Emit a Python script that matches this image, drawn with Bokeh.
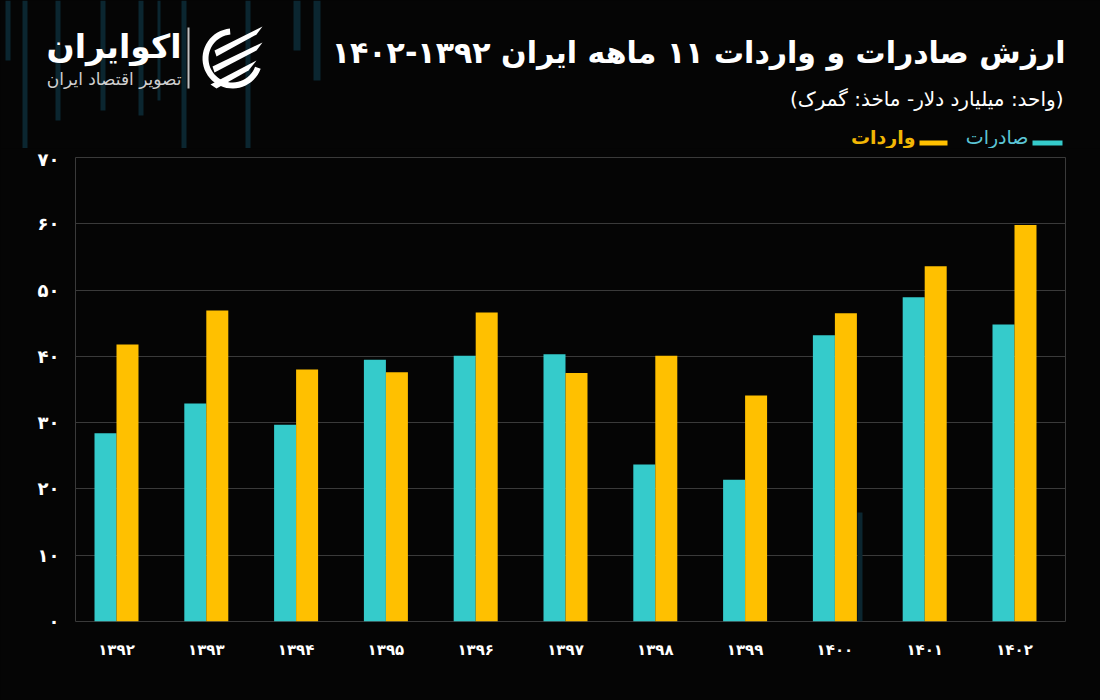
import numpy as np
from bokeh.plotting import figure
from bokeh.layouts import column
from bokeh.models import ColumnDataSource, Range1d, FixedTicker, BoxAnnotation
from bokeh.core.properties import value
from bokeh.embed import file_html
from bokeh.resources import INLINE

# ---------------- data ----------------
years = ["۱۳۹۲", "۱۳۹۳", "۱۳۹۴", "۱۳۹۵", "۱۳۹۶", "۱۳۹۷",
         "۱۳۹۸", "۱۳۹۹", "۱۴۰۰", "۱۴۰۱", "۱۴۰۲"]
exports = [28.4, 32.9, 29.7, 39.5, 40.1, 40.3, 23.7, 21.4, 43.2, 48.9, 44.8]
imports = [41.8, 46.9, 38.0, 37.6, 46.6, 37.5, 40.1, 34.1, 46.5, 53.6, 59.8]
y_ticks = [0, 10, 20, 30, 40, 50, 60, 70]
y_tick_labels = ["۰", "۱۰", "۲۰", "۳۰", "۴۰", "۵۰", "۶۰", "۷۰"]

title_text = "ارزش صادرات و واردات ۱۱ ماهه ایران ۱۳۹۲-۱۴۰۲"
subtitle_text = "(واحد: میلیارد دلار- ماخذ: گمرک)"
legend_exports = "صادرات"
legend_imports = "واردات"
logo_text = "اکوایران"
logo_sub = "تصویر اقتصاد ایران"

RLM = "\u200f"
def rtl(s):
    return RLM + s + RLM

# ---------------- style ----------------
BG = "#050505"
TEAL = "#35CBCB"
YELLOW = "#FFC000"
TEAL_TXT = "#5CC6D6"
YELLOW_TXT = "#F2B705"
GRID = "#3a3a3a"
FONT = "DejaVu Sans"
DECO = "#0b2630"

W = 1100
HH = 148                 # header height
CH = 700 - HH            # chart height
FL, FR, FT, FB = 75, 1065, 157, 621   # chart frame in page pixels

# ---------------- header ----------------
h = figure(width=W, height=HH, output_backend="svg", toolbar_location=None,
           x_range=Range1d(0, W), y_range=Range1d(HH, 0),
           x_axis_location=None, y_axis_location=None, min_border=0)
h.background_fill_color = BG
h.border_fill_color = BG
h.outline_line_color = None
h.grid.grid_line_color = None
if "frame_align" in h.properties():
    h.frame_align = False

deco_top = [(5, 10, 0, 60), (22, 27, 0, 190), (55, 60, 0, 120), (100, 105, 0, 110),
            (138, 143, 0, 115), (157, 160, 0, 100), (181, 186, 0, 160),
            (245, 250, 0, 190), (293, 300, 0, 50), (313, 320, 0, 80)]
h.quad(left=[d[0] for d in deco_top], right=[d[1] for d in deco_top],
       top=[d[2] for d in deco_top], bottom=[min(d[3], HH) for d in deco_top],
       fill_color=DECO, line_color=None)

def htext(txt, x, y, size, color, style="bold", align="right"):
    h.text(x=[x], y=[y], text=[rtl(txt)], text_font=value(FONT),
           text_font_size=f"{size}px", text_font_style=style, text_color=color,
           text_align=align, text_baseline="middle")

htext(title_text, 1065, 52, 30, "white")
htext(subtitle_text, 1063, 98, 20, "white", style="normal")

# legend
h.quad(left=[1032, 919], right=[1062, 947], top=[140, 140], bottom=[145, 145],
       fill_color=[TEAL, YELLOW], line_color=None)
htext(legend_exports, 1028, 136, 19, TEAL_TXT, style="normal")
htext(legend_imports, 915, 136, 19, YELLOW_TXT, style="bold")

# logo
htext(logo_text, 181, 46, 33, "white")
htext(logo_sub, 181, 78, 17, "#d0d0d0", style="normal")
h.quad(left=[187], right=[189], top=[27], bottom=[88], fill_color="#bfbfbf", line_color=None)

cx, cy, R = 232, 58, 30
th = np.linspace(np.radians(95), np.radians(340), 40)
ring_x = np.concatenate([cx + R * np.cos(th), cx + (R - 6) * np.cos(th[::-1])])
ring_y = np.concatenate([cy - R * np.sin(th), cy - (R - 6) * np.sin(th[::-1])])
sw = [
    [(214, 50), (262, 26), (256, 34), (216, 56)],
    [(212, 66), (262, 42), (256, 50), (214, 72)],
    [(210, 84), (256, 60), (248, 70), (216, 88)],
]
h.patches(xs=[list(ring_x)] + [[a for a, b in s] for s in sw],
          ys=[list(ring_y)] + [[b for a, b in s] for s in sw],
          fill_color="white", line_color=None)

# ---------------- chart ----------------
idx = np.arange(len(years))
src = ColumnDataSource(dict(x_e=idx - 0.1225, x_i=idx + 0.1225,
                            exports=exports, imports=imports))

p = figure(width=W, height=CH, output_backend="svg", toolbar_location=None,
           x_range=Range1d(-0.4566, 10.568), y_range=Range1d(0, 70),
           min_border_left=FL, min_border_right=W - FR,
           min_border_top=FT - HH, min_border_bottom=700 - FB)
p.background_fill_color = BG
p.border_fill_color = BG
p.outline_line_color = GRID
p.outline_line_width = 1
if "frame_align" in p.properties():
    p.frame_align = False

# faint decorative stripe inside the frame
p.add_layout(BoxAnnotation(left=857 - FL, right=862 - FL, top=FB - 512, bottom=0,
                           left_units="screen", right_units="screen",
                           top_units="screen", bottom_units="screen",
                           fill_color=DECO, fill_alpha=1, line_color=None,
                           level="underlay"))

p.vbar(x="x_e", top="exports", width=0.245, source=src,
       fill_color=TEAL, line_color=None)
p.vbar(x="x_i", top="imports", width=0.245, source=src,
       fill_color=YELLOW, line_color=None)

p.xaxis.ticker = FixedTicker(ticks=list(idx))
p.xaxis.major_label_overrides = {int(i): y for i, y in zip(idx, years)}
p.yaxis.ticker = FixedTicker(ticks=y_ticks)
p.yaxis.major_label_overrides = {t: l for t, l in zip(y_ticks, y_tick_labels)}
for ax in (p.xaxis, p.yaxis):
    ax.axis_line_color = None
    ax.major_tick_line_color = None
    ax.minor_tick_line_color = None
    ax.major_label_text_color = "white"
    ax.major_label_text_font = FONT
    ax.major_label_text_font_style = "bold"
p.xaxis.major_label_text_font_size = "15px"
p.yaxis.major_label_text_font_size = "18px"
p.xaxis.major_label_standoff = 13
p.yaxis.major_label_standoff = 10
p.xgrid.grid_line_color = None
p.ygrid.grid_line_color = GRID
p.ygrid.grid_line_width = 1

layout = column(h, p, spacing=0)
html = file_html(layout, INLINE)
html = html.replace("</head>",
                    "<style>html, body { background-color: #050505 !important; }</style></head>", 1)
open("out.html", "w").write(html)
